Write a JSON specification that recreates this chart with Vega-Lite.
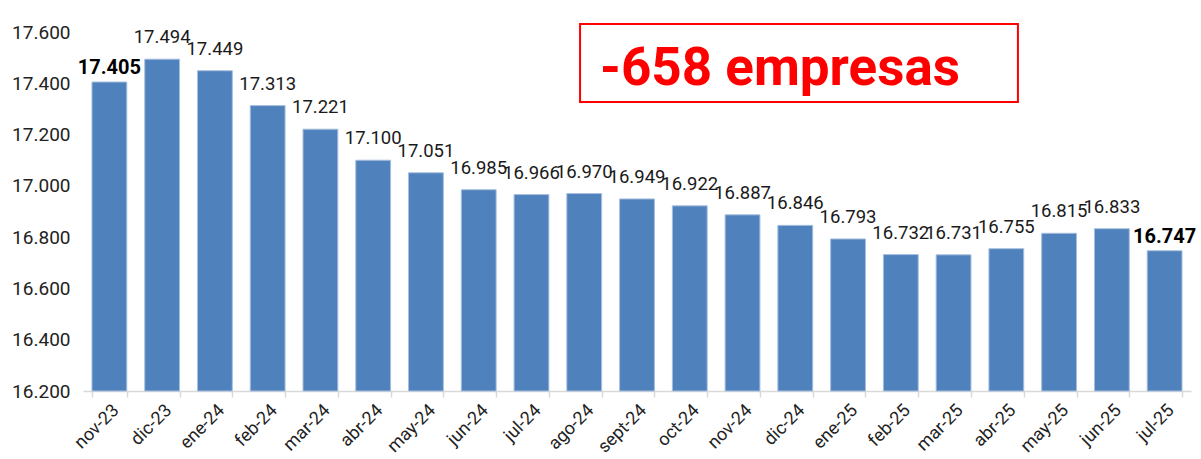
{
  "$schema": "https://vega.github.io/schema/vega-lite/v6.json",
  "autosize": {"type": "none"},
  "width": 1108,
  "height": 359,
  "padding": {"left": 83, "top": 32, "right": 10, "bottom": 68},
  "background": "white",
  "config": {
    "view": {"stroke": null},
    "font": "Roboto",
    "locale": {"number": {"decimal": ",", "thousands": ".", "grouping": [3], "currency": ["", " €"]}}
  },
  "datasets": {
    "empresas": [
      {"mes": "nov-23", "valor": 17405},
      {"mes": "dic-23", "valor": 17494},
      {"mes": "ene-24", "valor": 17449},
      {"mes": "feb-24", "valor": 17313},
      {"mes": "mar-24", "valor": 17221},
      {"mes": "abr-24", "valor": 17100},
      {"mes": "may-24", "valor": 17051},
      {"mes": "jun-24", "valor": 16985},
      {"mes": "jul-24", "valor": 16966},
      {"mes": "ago-24", "valor": 16970},
      {"mes": "sept-24", "valor": 16949},
      {"mes": "oct-24", "valor": 16922},
      {"mes": "nov-24", "valor": 16887},
      {"mes": "dic-24", "valor": 16846},
      {"mes": "ene-25", "valor": 16793},
      {"mes": "feb-25", "valor": 16732},
      {"mes": "mar-25", "valor": 16731},
      {"mes": "abr-25", "valor": 16755},
      {"mes": "may-25", "valor": 16815},
      {"mes": "jun-25", "valor": 16833},
      {"mes": "jul-25", "valor": 16747}
    ],
    "anotacion": [
      {"texto": "-658 empresas", "x1": 0.4486, "x2": 0.8438, "y1": 17327, "y2": 17631, "xt": 0.4666, "yt": 17393}
    ]
  },
  "layer": [
    {
      "data": {"name": "empresas"},
      "layer": [
        {
          "mark": {"type": "bar", "color": "#4F81BD", "stroke": "#A7BFDE", "strokeWidth": 1},
          "encoding": {
            "x": {
              "field": "mes", "type": "nominal", "sort": null, "title": null,
              "scale": {"paddingInner": 0.34, "paddingOuter": 0.17},
              "axis": {
                "labelAngle": -45, "labelAlign": "right", "labelBaseline": "top",
                "labelFontSize": 18, "labelColor": "#222222", "labelPadding": 4,
                "domainColor": "#D9D9D9", "domainWidth": 1.5, "tickColor": "#D9D9D9", "tickWidth": 1.5,
                "tickSize": 6, "tickBand": "extent", "grid": false
              }
            },
            "y": {
              "field": "valor", "type": "quantitative", "title": null,
              "scale": {"domain": [16200, 17600], "zero": false, "nice": false},
              "axis": {
                "values": [16200, 16400, 16600, 16800, 17000, 17200, 17400, 17600],
                "format": ",d", "domain": false, "ticks": false, "grid": false,
                "labelFontSize": 19, "labelColor": "#222222", "labelPadding": 13
              }
            },
            "y2": {"datum": 16200}
          }
        },
        {
          "transform": [{"filter": "datum.mes != 'nov-23' && datum.mes != 'jul-25'"}],
          "mark": {"type": "text", "baseline": "bottom", "dy": -12, "fontSize": 18.5, "color": "#1a1a1a"},
          "encoding": {
            "x": {"field": "mes", "type": "nominal", "sort": null},
            "y": {"field": "valor", "type": "quantitative"},
            "text": {"field": "valor", "type": "quantitative", "format": ",d"}
          }
        },
        {
          "transform": [{"filter": "datum.mes == 'nov-23' || datum.mes == 'jul-25'"}],
          "mark": {"type": "text", "baseline": "bottom", "dy": -4, "fontSize": 20, "fontWeight": "bold", "color": "#000000"},
          "encoding": {
            "x": {"field": "mes", "type": "nominal", "sort": null},
            "y": {"field": "valor", "type": "quantitative"},
            "text": {"field": "valor", "type": "quantitative", "format": ",d"}
          }
        }
      ]
    },
    {
      "data": {"name": "anotacion"},
      "layer": [
        {
          "mark": {"type": "rect", "fill": "white", "stroke": "#FF0000", "strokeWidth": 2},
          "encoding": {
            "x": {"field": "x1", "type": "quantitative", "scale": {"domain": [0, 1], "nice": false, "zero": false}, "axis": null},
            "x2": {"field": "x2"},
            "y": {"field": "y1", "type": "quantitative"},
            "y2": {"field": "y2"}
          }
        },
        {
          "mark": {"type": "text", "align": "left", "baseline": "alphabetic", "fontSize": 53, "fontWeight": "bold", "color": "#FF0000"},
          "encoding": {
            "x": {"field": "xt", "type": "quantitative", "scale": {"domain": [0, 1], "nice": false, "zero": false}, "axis": null},
            "y": {"field": "yt", "type": "quantitative"},
            "text": {"field": "texto"}
          }
        }
      ]
    }
  ],
  "resolve": {"scale": {"x": "independent"}}
}
